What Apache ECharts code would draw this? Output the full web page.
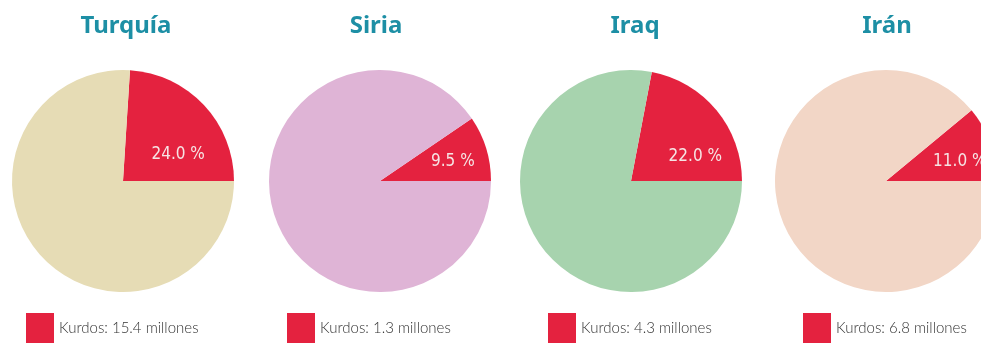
<!DOCTYPE html>
<html>
<head>
<meta charset="utf-8">
<script src="https://cdn.jsdelivr.net/npm/echarts@6/dist/echarts.min.js"></script>
<style>html,body{margin:0;padding:0;background:#fff;}#c{width:981px;height:348px;}</style>
</head>
<body>
<div id="c"></div>
<script>
// ---- data ----
var countries = ['Turquía', 'Siria', 'Iraq', 'Irán'];
var kurdPct = [24.0, 9.5, 22.0, 11.0];
var restPct = [76.0, 90.5, 78.0, 89.0];
var kurdMillions = ['15.4', '1.3', '4.3', '6.8'];

// ---- layout / style ----
var restColors = ['#e6dcb5', '#dfb4d6', '#a7d3ae', '#f2d6c6'];
var red = '#e4223f';
var centers = [[123, 181], [380, 181], [631, 181], [886, 181]];
var R = 111;
var titleX = [121, 371, 630, 882];
var legendX = [26, 287, 548, 803];
var labelPos = [[53, -24], [70, -19], [62, -23], [71, -18]]; // label centre relative to pie centre

var chart = echarts.init(document.getElementById('c'));
var series = [], titles = [], legends = [];
countries.forEach(function (c, i) {
  var legendName = 'Kurdos: ' + kurdMillions[i] + ' millones';
  var mid = kurdPct[i] / 100 * Math.PI;
  var cx = R / 2 * Math.cos(mid), cy = -R / 2 * Math.sin(mid);
  series.push({
    type: 'pie',
    name: c,
    center: centers[i],
    radius: [0, R],
    startAngle: 0,
    clockwise: false,
    silent: true,
    legendHoverLink: false,
    label: { show: false },
    labelLine: { show: false },
    emphasis: { disabled: true },
    data: [
      {
        name: legendName, value: kurdPct[i], itemStyle: { color: red },
        label: {
          show: true, position: 'inside',
          formatter: kurdPct[i].toFixed(1) + ' %',
          color: '#f6e4e4', fontSize: 17, fontFamily: 'DejaVu Sans Condensed',
          offset: [labelPos[i][0] - cx, labelPos[i][1] - cy]
        }
      },
      { name: c + ' resto', value: restPct[i], itemStyle: { color: restColors[i] } }
    ]
  });
  titles.push({
    text: c, left: titleX[i], top: 9, textAlign: 'center',
    textStyle: { color: '#1d8fa5', fontSize: 24, fontWeight: 'bold', fontFamily: 'Noto Sans' }
  });
  legends.push({
    data: [legendName], left: legendX[i], top: 313, icon: 'rect', padding: 0,
    itemWidth: 28, itemHeight: 30, itemGap: 4, selectedMode: false,
    textStyle: { color: '#333', fontSize: 15, fontWeight: 300, fontFamily: 'Lato', padding: [14, 0, 0, 0] }
  });
});

chart.setOption({
  backgroundColor: '#fff',
  animation: false,
  title: titles,
  legend: legends,
  series: series
});
</script>
</body>
</html>
